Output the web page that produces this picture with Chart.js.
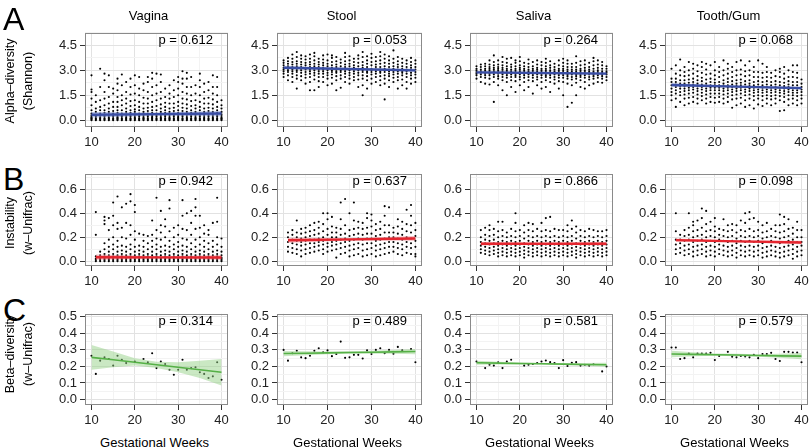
<!DOCTYPE html>
<html>
<head>
<meta charset="utf-8">
<script src="https://cdn.jsdelivr.net/npm/chart.js@4.4.0/dist/chart.umd.min.js"></script>
<style>
body{margin:0;background:#fff;width:810px;height:448px;position:relative;overflow:hidden;font-family:"Liberation Sans",Arial,sans-serif;}
canvas{position:absolute;}
.t{position:absolute;white-space:nowrap;color:#000;line-height:1;}
</style>
</head>
<body>
<script>
// weeks of gestation
const weeks = [10,11,12,13,14,15,16,17,18,19,20,21,22,23,24,25,26,27,28,29,30,31,32,33,34,35,36,37,38,39,40];
const weeksB = [11,12,13,14,15,16,17,18,19,20,21,22,23,24,25,26,27,28,29,30,31,32,33,34,35,36,37,38,39,40];

const sites = ['Vagina','Stool','Saliva','Tooth/Gum'];
const pA = ['0.612','0.053','0.264','0.068'];
const pB = ['0.942','0.637','0.866','0.098'];
const pC = ['0.314','0.489','0.581','0.579'];

const xMajor = [10,20,30,40], xMinor = [15,25,35];
const yMajorA = [0,1.5,3,4.5], yMinorA = [0.75,2.25,3.75,5.25];
const yMajorB = [0,0.2,0.4,0.6], yMinorB = [0.1,0.3,0.5,0.7];
const yMajorC = [0,0.1,0.2,0.3,0.4,0.5], yMinorC = [0.05,0.15,0.25,0.35,0.45];

// A: alpha diversity (Shannon), one string per week 10..40
const alphaVagina = [
"0 .05 .1 .15 .2 .3 .4 .6 .9 1.3 1.7 1.85 2.7","0 .05 .1 .2 .3 .5 .7 1.1 1.5","0 .05 .1 .15 .25 .4 .6 .8 1.2 2.0 3.1",
"0 .05 .1 .2 .3 .45 .6 .9 1.3 1.7 2.4 2.8","0 .05 .1 .15 .25 .35 .5 .7 1.0 1.4 2.0 2.7","0 .05 .1 .2 .3 .4 .55 .8 1.1 1.6 1.9",
"0 .05 .1 .15 .2 .3 .45 .6 .8 1.1 1.4 1.8 2.2 2.5","0 .05 .1 .2 .3 .4 .6 .9 1.2 1.5 2.1 2.75","0 .05 .1 .15 .25 .35 .5 .7 1.0 1.3 1.7 2.3",
"0 .05 .1 .2 .3 .45 .6 .85 1.15 1.55 2.0 2.5","0 .05 .1 .15 .25 .35 .5 .65 .9 1.2 1.6 2.1 2.7","0 .05 .1 .2 .3 .4 .6 .8 1.1 1.5 1.9 2.6",
"0 .05 .1 .15 .25 .35 .5 .7 1.0 1.35 1.8 2.2","0 .05 .1 .2 .3 .4 .55 .75 1.0 1.3 1.7 2.3 2.6","0 .05 .1 .15 .2 .3 .45 .6 .8 1.1 1.5 2.0 2.5 2.85",
"0 .05 .1 .2 .3 .4 .6 .85 1.2 1.6 2.1 2.8","0 .05 .1 .15 .25 .35 .5 .7 .95 1.3 1.7 2.3 2.75","0 .05 .1 .2 .3 .45 .6 .8 1.05 1.4 1.9",
"0 .05 .1 .15 .25 .35 .5 .7 1.0 1.3 1.6 2.1","0 .05 .1 .2 .3 .4 .55 .75 1.0 1.4 1.8 2.4","0 .05 .1 .15 .2 .3 .45 .6 .85 1.1 1.5 1.9 2.3 2.6",
"0 .05 .1 .2 .3 .4 .55 .75 1.0 1.3 1.7 2.2 2.5 2.95","0 .05 .1 .15 .25 .35 .5 .7 .95 1.25 1.6 2.0 2.5 2.85","0 .05 .1 .2 .3 .45 .6 .85 1.15 1.5 2.0 2.6",
"0 .05 .1 .15 .25 .35 .5 .7 .9 1.2 1.6 2.1","0 .05 .1 .2 .3 .4 .6 .8 1.1 1.5 2.0 2.4 2.8","0 .05 .1 .15 .25 .35 .5 .7 1.0 1.3 1.7 2.2",
"0 .05 .1 .2 .3 .4 .55 .75 1.0 1.35 1.8 2.3","0 .05 .1 .15 .25 .35 .5 .7 .95 1.25 1.6 2.0 2.7","0 .05 .1 .2 .3 .45 .6 .8 1.1 1.5 2.0 2.6",
"0 .05 .1 .15 .25 .35 .5 .7 .9 1.2"];
const alphaStool = [
"2.6 2.8 2.95 3.05 3.15 3.3 3.45 3.6","2.4 2.7 2.9 3.0 3.1 3.25 3.4 3.55 3.75","2.3 2.6 2.8 2.95 3.05 3.2 3.35 3.5 3.7 3.95",
"1.9 2.5 2.7 2.9 3.0 3.1 3.25 3.4 3.55 3.8 4.1","2.4 2.65 2.85 3.0 3.1 3.2 3.35 3.5 3.7 3.9","2.2 2.55 2.75 2.9 3.05 3.15 3.3 3.45 3.65 3.85",
"1.8 2.3 2.6 2.8 2.95 3.05 3.2 3.35 3.5 3.7 3.95","1.8 2.45 2.7 2.85 3.0 3.1 3.25 3.4 3.6 3.85 4.05","2.0 2.35 2.6 2.8 2.95 3.05 3.2 3.35 3.5 3.7",
"2.3 2.6 2.8 2.95 3.05 3.15 3.3 3.45 3.65 3.9","2.1 2.5 2.7 2.85 3.0 3.1 3.25 3.4 3.6 3.95","2.2 2.55 2.75 2.9 3.0 3.15 3.3 3.5 3.75 3.9",
"1.8 2.4 2.65 2.85 2.95 3.05 3.2 3.35 3.55 3.8","1.95 2.5 2.7 2.9 3.0 3.1 3.25 3.45 3.65","2.3 2.6 2.8 2.95 3.05 3.2 3.35 3.55 3.8 4.05",
"2.2 2.5 2.7 2.85 3.0 3.1 3.25 3.4 3.6 3.85","2.4 2.6 2.8 2.95 3.05 3.15 3.3 3.5 3.7","2.0 2.45 2.7 2.85 3.0 3.1 3.25 3.45 3.7 3.9",
"1.5 2.1 2.5 2.7 2.9 3.0 3.15 3.3 3.5 3.8 4.1","1.9 2.4 2.65 2.85 2.95 3.05 3.2 3.4 3.6 3.85","2.2 2.5 2.75 2.9 3.0 3.1 3.3 3.5 3.75 4.0",
"2.3 2.6 2.8 2.95 3.05 3.2 3.35 3.55 3.8","2.1 2.4 2.65 2.85 2.95 3.05 3.2 3.4 3.6 3.85 4.1","1.25 2.2 2.5 2.7 2.9 3.0 3.1 3.25 3.45 3.7 3.95",
"2.0 2.4 2.65 2.8 2.95 3.05 3.2 3.4 3.6 3.85","2.3 2.55 2.75 2.9 3.0 3.1 3.25 3.45 3.7 4.2","1.9 2.4 2.6 2.8 2.95 3.05 3.2 3.35 3.55 3.8",
"2.1 2.45 2.7 2.85 2.95 3.1 3.25 3.45 3.7","1.9 2.3 2.6 2.8 2.95 3.05 3.2 3.4 3.6","2.2 2.5 2.7 2.85 3.0 3.15 3.3 3.5 3.75",
"2.3 2.55 2.75 2.9 3.05 3.2 3.4 3.6"];
const alphaSaliva = [
"2.5 2.7 2.8 2.9 3.0 3.1 3.25","2.3 2.6 2.75 2.85 2.95 3.05 3.2 3.35","2.2 2.55 2.7 2.8 2.9 3.0 3.1 3.25 3.4",
"2.15 2.5 2.7 2.8 2.9 3.0 3.1 3.2 3.35 3.6","1.1 2.3 2.6 2.75 2.85 2.95 3.05 3.15 3.3 3.5 3.9","2.1 2.5 2.65 2.8 2.9 3.0 3.1 3.2 3.35 3.6",
"1.8 2.4 2.6 2.75 2.85 2.95 3.05 3.15 3.3 3.5 3.8","1.5 2.3 2.55 2.7 2.8 2.9 3.0 3.1 3.25 3.45 3.7","2.0 2.4 2.6 2.75 2.85 2.95 3.05 3.2 3.35 3.75",
"1.7 2.35 2.6 2.7 2.8 2.9 3.0 3.1 3.25 3.45 3.6","2.1 2.45 2.6 2.75 2.85 2.95 3.05 3.15 3.3 3.55 3.8","1.8 2.3 2.55 2.7 2.8 2.9 3.0 3.1 3.25 3.45",
"2.0 2.4 2.6 2.75 2.85 2.95 3.05 3.2 3.4 3.65","1.6 2.35 2.55 2.7 2.8 2.9 3.0 3.1 3.25 3.5","2.1 2.45 2.6 2.75 2.85 2.95 3.05 3.15 3.35 3.6",
"1.9 2.3 2.55 2.7 2.8 2.9 3.0 3.1 3.3 3.5","2.0 2.4 2.6 2.7 2.8 2.9 3.0 3.1 3.25 3.45 3.7","1.7 2.3 2.55 2.7 2.8 2.9 3.0 3.15 3.3 3.55",
"2.2 2.45 2.6 2.75 2.85 2.95 3.05 3.2 3.4","1.9 2.35 2.55 2.7 2.8 2.9 3.0 3.1 3.3 3.6","1.5 2.3 2.55 2.7 2.8 2.9 3.0 3.1 3.25 3.45 3.7",
"0.8 2.2 2.5 2.65 2.75 2.85 2.95 3.05 3.2 3.4 3.6","1.05 2.1 2.45 2.6 2.75 2.85 2.95 3.05 3.2 3.4","1.5 2.25 2.5 2.65 2.75 2.85 2.95 3.05 3.2 3.45 3.85",
"2.0 2.4 2.6 2.7 2.8 2.9 3.0 3.1 3.3 3.55","1.9 2.3 2.55 2.7 2.8 2.9 3.0 3.15 3.35 3.6","2.1 2.45 2.6 2.75 2.85 2.95 3.05 3.2 3.45",
"2.2 2.5 2.65 2.75 2.85 2.95 3.1 3.3 3.55 3.75","2.3 2.55 2.7 2.8 2.9 3.0 3.15 3.35 3.6","2.25 2.5 2.65 2.75 2.85 2.95 3.1 3.3 3.5",
"2.4 2.6 2.75 2.85 2.95 3.1 3.25"];
const alphaTooth = [
"1.2 1.5 1.7 1.9 2.1 2.3 2.5 3.1","0.8 1.3 1.6 1.8 2.0 2.15 2.3 2.5 2.8 3.3","1.1 1.5 1.7 1.9 2.05 2.2 2.4 2.7 3.0 3.65",
"0.9 1.3 1.55 1.75 1.9 2.05 2.2 2.4 2.65 2.9 3.2","1.0 1.35 1.6 1.8 1.95 2.1 2.25 2.45 2.7 3.0 3.5","1.1 1.4 1.65 1.85 2.0 2.15 2.3 2.5 2.8 3.1 3.4",
"1.0 1.3 1.55 1.75 1.9 2.05 2.2 2.4 2.65 2.95 3.3","1.2 1.45 1.65 1.85 2.0 2.15 2.35 2.55 2.85 3.2 3.5","1.0 1.3 1.55 1.75 1.9 2.05 2.2 2.45 2.75 3.05 3.4",
"1.1 1.4 1.6 1.8 1.95 2.1 2.3 2.5 2.8 3.3","1.05 1.35 1.6 1.8 1.95 2.1 2.25 2.45 2.7 3.0 3.5","1.1 1.4 1.6 1.8 1.95 2.1 2.3 2.6 2.9 3.2",
"1.0 1.3 1.55 1.75 1.9 2.05 2.2 2.4 2.7 3.0 3.6","1.1 1.4 1.6 1.8 1.95 2.1 2.3 2.5 2.8 3.1 3.4","0.75 1.25 1.5 1.7 1.85 2.0 2.15 2.35 2.6 2.9 3.2",
"0.9 1.3 1.55 1.75 1.9 2.05 2.2 2.4 2.7 3.0 3.5","1.0 1.35 1.6 1.8 1.95 2.1 2.25 2.45 2.75 3.05 3.6","0.8 1.2 1.5 1.7 1.85 2.0 2.15 2.35 2.65 2.95 3.3",
"0.9 1.3 1.55 1.75 1.9 2.05 2.2 2.4 2.7 3.0 3.55","0.7 1.2 1.45 1.65 1.8 1.95 2.1 2.3 2.6 2.9 3.2","0.95 1.3 1.5 1.7 1.85 2.0 2.15 2.35 2.6 2.9 3.6",
"0.85 1.2 1.45 1.65 1.8 1.95 2.1 2.3 2.55 2.85 3.4","1.0 1.3 1.5 1.7 1.85 2.0 2.15 2.35 2.6 2.9 3.2","0.9 1.25 1.45 1.65 1.8 1.95 2.1 2.3 2.55 2.85",
"1.0 1.3 1.5 1.7 1.85 2.0 2.15 2.35 2.65 3.0","0.55 1.2 1.45 1.65 1.8 1.95 2.1 2.3 2.6 2.9 3.1","0.6 1.1 1.4 1.6 1.75 1.9 2.05 2.25 2.5 2.8 3.2",
"0.9 1.25 1.5 1.7 1.85 2.0 2.15 2.35 2.6 3.0","1.0 1.3 1.5 1.65 1.8 1.95 2.1 2.3 2.6 2.9 3.3","0.9 1.2 1.45 1.65 1.8 1.95 2.1 2.3 2.55 2.85 3.3",
"1.0 1.3 1.5 1.7 1.85 2.0 2.2 2.45"];

// B: instability (w-Unifrac), one string per week 11..40
const instVagina = [
"0 .01 .02 .04 .22 .41","0 .01 .02 .03 .05 .08","0 .01 .02 .04 .06 .1 .15 .31 .34 .37","0 .01 .02 .03 .05 .08 .12 .18 .26 .36",
"0 .01 .02 .04 .06 .1 .14 .2 .3 .38 .49","0 .01 .02 .03 .05 .08 .12 .17 .27 .32 .54","0 .01 .02 .04 .06 .09 .13 .2 .28 .45",
"0 .01 .02 .03 .05 .08 .12 .19 .32 .48","0 .01 .02 .04 .06 .1 .14 .22 .3 .5 .56","0 .01 .02 .03 .05 .08 .12 .18 .25 .41 .47",
"0 .01 .02 .04 .06 .09 .13 .23","0 .01 .02 .03 .05 .08 .12 .17 .22","0 .01 .02 .04 .06 .1 .15 .21","0 .01 .02 .03 .05 .08 .12 .17 .22 .34",
"0 .01 .02 .04 .06 .1 .14 .19 .26 .53","0 .01 .02 .03 .05 .08 .12 .18 .24 .3 .42","0 .01 .02 .04 .06 .09 .13 .2 .29 .35",
"0 .01 .02 .03 .05 .08 .12 .17 .25 .44 .51","0 .01 .02 .04 .06 .1 .14 .2 .28","0 .01 .02 .03 .05 .08 .12 .16 .22 .3",
"0 .01 .02 .04 .06 .09 .13 .19 .27 .38 .51","0 .01 .02 .03 .05 .08 .12 .18 .26 .4","0 .01 .02 .04 .06 .1 .15 .22 .32 .42",
"0 .01 .02 .03 .05 .08 .12 .18 .27 .38 .45 .52","0 .01 .02 .04 .06 .09 .14 .2 .28 .38","0 .01 .02 .03 .05 .08 .12 .17 .23 .3",
"0 .01 .02 .04 .06 .1 .15 .22 .26","0 .01 .02 .03 .05 .08 .12 .17 .32","0 .01 .02 .04 .06 .09 .14 .2 .33 .53","0 .01 .02 .03 .05 .08 .12 .19"];
const instStool = [
".08 .12 .16 .2 .24",".07 .11 .15 .18 .22 .26",".06 .1 .14 .17 .2 .24 .34",".04 .09 .13 .16 .19 .23 .27",".06 .1 .14 .17 .2 .24 .28",
".07 .11 .15 .18 .21 .25 .3",".08 .12 .15 .18 .22 .26 .32",".09 .13 .16 .19 .23 .28 .33",".06 .1 .14 .17 .2 .25 .31 .4",
".08 .12 .15 .18 .22 .27 .35 .4",".09 .13 .16 .2 .24 .29 .37",".03 .1 .14 .17 .2 .24 .28",".06 .11 .15 .18 .22 .27 .35 .49",
".07 .12 .16 .19 .23 .3 .52",".04 .09 .13 .17 .21 .26 .4",".05 .1 .14 .18 .22 .27 .34 .49",".06 .11 .15 .19 .23 .28 .33",
".04 .09 .14 .18 .22 .27 .32",".05 .1 .15 .19 .23 .28 .36 .4",".06 .11 .15 .19 .23 .29 .34 .39",".04 .09 .13 .17 .21 .26 .31",
".05 .1 .14 .18 .22 .27 .33",".06 .11 .15 .19 .24 .3 .38 .46",".07 .12 .16 .2 .24 .3 .45",".08 .12 .16 .2 .24 .28",
".06 .11 .15 .19 .23 .29 .35",".05 .1 .14 .18 .22 .27 .33",".07 .12 .16 .2 .25 .31 .43",".06 .11 .15 .19 .24 .3 .38 .47",".04 .06 .12 .17 .21 .26 .32"];
const instSaliva = [
".07 .1 .13 .16 .2 .26",".06 .09 .12 .15 .18 .22 .28",".05 .08 .11 .14 .17 .21 .26 .3",".06 .09 .12 .15 .18 .22 .27",
".04 .07 .1 .13 .16 .2 .25 .33",".05 .08 .11 .14 .17 .21 .26 .33",".04 .07 .1 .13 .16 .2 .24",".05 .08 .11 .14 .17 .21 .27",
".04 .07 .1 .13 .16 .2 .25 .32 .4",".05 .08 .11 .14 .17 .21 .26",".03 .06 .09 .12 .15 .19 .24 .3",".05 .08 .11 .14 .17 .21 .26 .32",
".04 .07 .1 .13 .16 .2 .25 .31",".05 .08 .11 .14 .17 .21 .27",".04 .07 .1 .13 .16 .2 .25 .32",".05 .08 .11 .14 .17 .21 .26 .36",
".04 .07 .1 .13 .16 .2 .25 .37",".05 .08 .11 .14 .17 .21 .27",".04 .07 .1 .13 .16 .2 .26",".05 .08 .11 .14 .17 .21 .26",
".04 .07 .1 .13 .16 .2 .25 .3",".05 .08 .11 .14 .17 .21 .27 .34",".03 .06 .09 .12 .15 .19 .24 .29",".05 .08 .11 .14 .17 .21 .26",
".04 .07 .1 .13 .16 .2 .25",".05 .08 .11 .14 .17 .21 .27",".04 .07 .1 .13 .16 .2 .26",".05 .08 .11 .14 .17 .21 .25",
".04 .07 .1 .13 .16 .2 .25",".05 .08 .11 .14 .17 .21 .26"];
const instTooth = [
".06 .1 .14 .18 .25 .4",".07 .11 .15 .18 .22",".05 .09 .13 .17 .21 .26",".06 .1 .14 .18 .22 .28 .4",".04 .08 .12 .16 .2 .25 .3 .33",
".05 .09 .13 .17 .21 .26 .34",".06 .1 .14 .18 .22 .28 .36 .44",".04 .08 .12 .16 .2 .25 .31 .42",".05 .09 .13 .17 .21 .26 .33",
".04 .08 .12 .16 .2 .25 .29 .36",".06 .1 .14 .18 .22 .27",".05 .09 .13 .17 .21 .26 .35",".04 .08 .12 .16 .2 .25 .3",
".05 .09 .13 .17 .21 .26 .31",".03 .07 .11 .15 .19 .24 .3",".05 .09 .13 .17 .21 .26 .34",".04 .08 .12 .16 .2 .25 .32 .4",
".05 .09 .13 .17 .21 .27 .35 .41",".04 .08 .12 .16 .2 .25 .36",".05 .09 .13 .17 .21 .26 .33",".03 .07 .11 .15 .19 .24 .3",
".04 .08 .12 .16 .2 .25 .32",".05 .09 .13 .17 .21 .27",".04 .08 .12 .16 .2 .25 .3",".03 .07 .11 .15 .19 .24 .3 .39",
".04 .08 .12 .16 .2 .25 .31 .37",".05 .09 .13 .17 .21 .27 .35",".02 .06 .1 .14 .18 .23 .28",".04 .08 .12 .16 .2 .26 .33",".05 .09 .13 .16 .2 .26"];

// C: beta diversity (w-Unifrac), one value per week 10..40 (null = no sample)
const betaVagina = [.265,.155,.235,.255,.245,.205,.265,.24,.22,null,.23,null,.245,.225,.28,.19,.23,.215,.18,.15,.18,.24,.18,.19,.195,.165,.155,.13,.14,.225,.12];
const betaStool  = [.30,.235,.28,.295,.255,.25,.265,.295,.31,.285,.297,.262,.275,.35,.252,.255,.27,.27,.248,.297,.275,.30,.31,.28,.30,.277,.318,.297,null,.305,.225];
const betaSaliva = [.23,null,.19,.21,.205,.225,.19,.23,.24,null,null,.205,.21,.215,.22,.23,.236,.226,.22,.19,.238,.203,.222,.226,.205,.21,.205,.213,null,.17,.20];
const betaTooth  = [.314,.314,.245,.25,.278,.255,.278,.278,.278,.282,.239,.263,null,.288,.259,.255,.263,.26,.255,.27,.25,.275,.275,.282,.245,.233,.288,.288,.284,.284,.225];

// regression lines and confidence bands
const fitXA = [10,25,40], fitXB = [11,25.5,40], fitXC = [10,15,20,25,30,35,40];
const fitA = [[.33,.365,.40],[3.16,3.08,3.00],[2.88,2.84,2.80],[2.12,2.02,1.93]];
const loA  = [[.16,.27,.24],[3.06,3.03,2.91],[2.81,2.80,2.73],[2.02,1.97,1.84]];
const hiA  = [[.50,.46,.56],[3.26,3.13,3.09],[2.95,2.88,2.87],[2.22,2.07,2.02]];
const fitB = [[.033,.032,.031],[.175,.182,.19],[.146,.146,.146],[.176,.166,.156]];
const loB  = [[.012,.022,.012],[.155,.172,.17],[.132,.139,.132],[.162,.159,.142]];
const hiB  = [[.055,.042,.05],[.195,.192,.21],[.16,.153,.16],[.19,.173,.17]];
const fitC = [[.255,.24,.225,.21,.195,.18,.165],[.278,.28,.282,.284,.286,.288,.29],[.222,.22,.218,.216,.214,.212,.21],[.275,.273,.271,.269,.266,.264,.262]];
const loC  = [[.18,.195,.205,.19,.165,.13,.085],[.262,.268,.274,.276,.277,.276,.274],[.21,.212,.212,.211,.208,.204,.198],[.255,.261,.264,.262,.258,.252,.243]];
const hiC  = [[.33,.29,.25,.228,.225,.235,.245],[.294,.292,.29,.292,.295,.3,.306],[.234,.228,.224,.221,.22,.22,.222],[.295,.285,.278,.276,.274,.276,.281]];

const ROWS = [{T:30,H:97,ymin:-0.41,ymax:5.26},{T:171,H:95,ymin:-0.04,ymax:0.73},{T:311,H:94,ymin:-0.033,ymax:0.518}];
const COLS = [{L:85,W:143},{L:277,W:145},{L:470,W:143},{L:665,W:143}];
const LINE = ['#3A4EA5','#E4252E','#55B046'];
const BAND = ['rgba(120,140,205,0.5)','rgba(240,120,130,0.5)','rgba(150,210,135,0.5)'];

Chart.defaults.font.family = '"Liberation Sans", Arial, sans-serif';
Chart.defaults.font.size = 13;
Chart.defaults.color = '#333';

const panelBorder = {
    id: 'panelBorder',
    afterDraw(chart) {
        const a = chart.chartArea, c = chart.ctx;
        c.save();
        c.strokeStyle = '#8a8a8a';
        c.lineWidth = 1;
        c.strokeRect(Math.round(a.left) + 0.5, Math.round(a.top) + 0.5, Math.round(a.right - a.left) - 1, Math.round(a.bottom - a.top) - 1);
        c.restore();
    }
};

function text(str, x, y, css) {
    const d = document.createElement('div');
    d.className = 't';
    d.textContent = str;
    d.style.left = x + 'px';
    d.style.top = y + 'px';
    Object.assign(d.style, css || {});
    document.body.appendChild(d);
}

function fromStrings(list, wk) {
    const pts = [];
    list.forEach((s, i) => s.split(' ').forEach(v => pts.push({x: wk[i], y: Number(v)})));
    return pts;
}
function fromValues(list, wk) {
    const pts = [];
    list.forEach((v, i) => { if (v !== null) pts.push({x: wk[i], y: v}); });
    return pts;
}
function pairs(xs, ys) { return xs.map((x, i) => ({x: x, y: ys[i]})); }

function panel(r, c, pts, fx, fit, lo, hi, yMaj, yMin, fmt) {
    const R = ROWS[r], C = COLS[c];
    const cv = document.createElement('canvas');
    cv.width = C.W + 54;
    cv.height = R.H + 8 + 28;
    cv.style.left = (C.L - 44) + 'px';
    cv.style.top = (R.T - 8) + 'px';
    document.body.appendChild(cv);
    const xt = xMajor.concat(xMinor).sort((a, b) => a - b);
    const yt = yMaj.concat(yMin).sort((a, b) => a - b);
    new Chart(cv, {
        type: 'line',
        data: {
            datasets: [
                {data: pairs(fx, fit), borderColor: LINE[r], borderWidth: r < 2 ? 2.4 : 1.6, pointRadius: 0, fill: false},
                {data: pairs(fx, hi), borderColor: 'rgba(0,0,0,0)', borderWidth: 1, pointRadius: 0, fill: '+1', backgroundColor: BAND[r]},
                {data: pairs(fx, lo), borderColor: 'rgba(0,0,0,0)', borderWidth: 1, pointRadius: 0, fill: false},
                {data: pts, showLine: false, pointRadius: 1.05, pointBackgroundColor: '#000', pointBorderColor: '#000', pointBorderWidth: 0}
            ]
        },
        options: {
            responsive: false,
            animation: false,
            events: [],
            layout: {padding: {top: 8, right: 10, left: 0, bottom: 0}},
            plugins: {legend: {display: false}, tooltip: {enabled: false}},
            scales: {
                x: {
                    type: 'linear', min: 8.5, max: 41.5,
                    afterBuildTicks: s => { s.ticks = xt.map(v => ({value: v})); },
                    afterFit: s => { s.height = 28; },
                    border: {display: false},
                    grid: {
                        color: ctx => xMajor.includes(ctx.tick && ctx.tick.value) ? '#e2e2e2' : '#f3f3f3',
                        tickColor: ctx => xMajor.includes(ctx.tick && ctx.tick.value) ? '#333' : 'rgba(0,0,0,0)',
                        tickLength: 5
                    },
                    ticks: {autoSkip: false, maxRotation: 0, padding: 3, color: '#222',
                        callback: v => xMajor.includes(v) ? String(v) : ''}
                },
                y: {
                    type: 'linear', min: R.ymin, max: R.ymax,
                    afterBuildTicks: s => { s.ticks = yt.map(v => ({value: v})); },
                    afterFit: s => { s.width = 44; },
                    border: {display: false},
                    grid: {
                        color: ctx => yMaj.includes(ctx.tick && ctx.tick.value) ? '#e2e2e2' : '#f3f3f3',
                        tickColor: ctx => yMaj.includes(ctx.tick && ctx.tick.value) ? '#333' : 'rgba(0,0,0,0)',
                        tickLength: 5
                    },
                    ticks: {autoSkip: false, padding: 3, color: '#222',
                        callback: v => yMaj.includes(v) ? fmt(v) : ''}
                }
            }
        },
        plugins: [panelBorder]
    });
}

const f1 = v => v.toFixed(1);
const alpha = [alphaVagina, alphaStool, alphaSaliva, alphaTooth];
const inst = [instVagina, instStool, instSaliva, instTooth];
const beta = [betaVagina, betaStool, betaSaliva, betaTooth];

for (let c = 0; c < 4; c++) {
    panel(0, c, fromStrings(alpha[c], weeks), fitXA, fitA[c], loA[c], hiA[c], yMajorA, yMinorA, f1);
    panel(1, c, fromStrings(inst[c], weeksB), fitXB, fitB[c], loB[c], hiB[c], yMajorB, yMinorB, f1);
    panel(2, c, fromValues(beta[c], weeks), fitXC, fitC[c], loC[c], hiC[c], yMajorC, yMinorC, f1);
}

// labels
const pv = [pA, pB, pC];
for (let c = 0; c < 4; c++) {
    const C = COLS[c];
    const mid = C.L + C.W / 2;
    text(sites[c], mid - 8, 15, {transform: 'translate(-50%,-50%)', fontSize: '13px'});
    text('Gestational Weeks', mid - 2, 442, {transform: 'translate(-50%,-50%)', fontSize: '13px'});
    for (let r = 0; r < 3; r++) {
        const R = ROWS[r];
        text('p = ' + pv[r][c], C.L + C.W - 15, R.T + 9, {transform: 'translate(-100%,-50%)', fontSize: '13px'});
    }
}
text('A', 3, 3, {fontSize: '32px'});
text('B', 3, 163, {fontSize: '32px'});
text('C', 3, 294, {fontSize: '32px'});

const yTitles = [['Alpha\u2013diversity', '(Shannon)', 81], ['Instability', '(w\u2013Unifrac)', 223], ['Beta\u2013diversity', '(w\u2013Unifrac)', 354]];
yTitles.forEach(t => {
    text(t[0], 10, t[2], {transform: 'translate(-50%,-50%) rotate(-90deg)', fontSize: '12.5px'});
    text(t[1], 28, t[2], {transform: 'translate(-50%,-50%) rotate(-90deg)', fontSize: '12.5px'});
});
</script>
</body>
</html>
